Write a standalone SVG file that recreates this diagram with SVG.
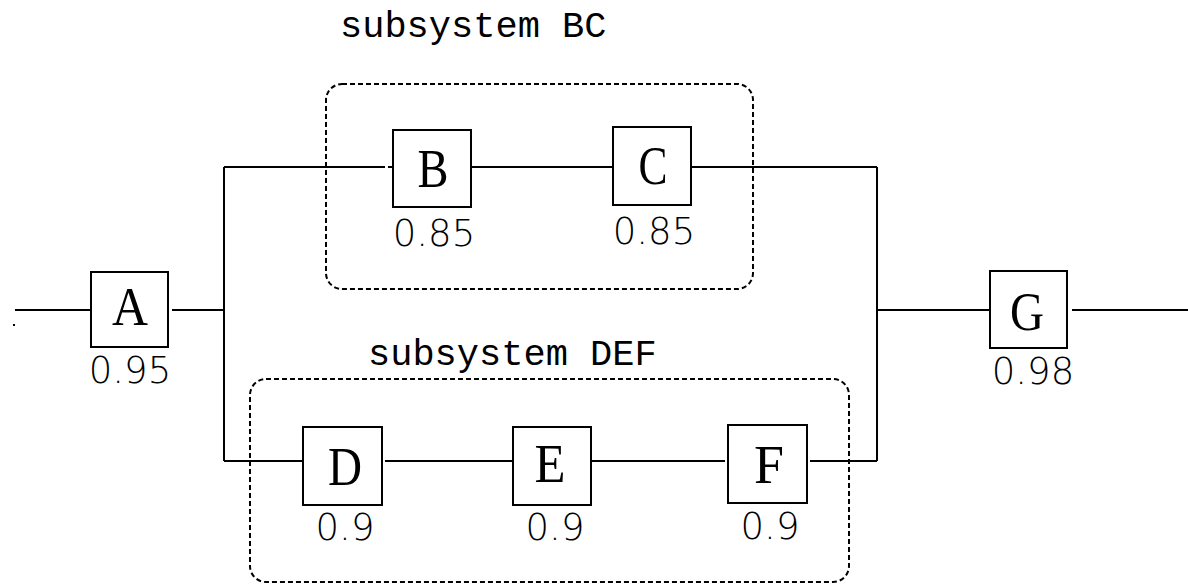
<svg xmlns="http://www.w3.org/2000/svg" width="1188" height="585" viewBox="0 0 1188 585">
  <style>
    .box { fill: #fff; stroke: #000; stroke-width: 2; }
    .wire { fill: none; stroke: #000; stroke-width: 2; }
    .group { fill: none; stroke: #000; stroke-width: 2; stroke-dasharray: 5 3; }
    .letter { font-family: "Liberation Serif", "Times New Roman", serif; font-size: 54px; text-anchor: middle; fill: #000; }
    .value { font-family: "DejaVu Sans", "Liberation Sans", sans-serif; font-weight: 200; font-size: 37px; text-anchor: middle; fill: #000; }
    .title { font-family: "Liberation Mono", "Courier New", monospace; font-size: 37px; fill: #000; }
  </style>
  <rect width="1188" height="585" fill="#fff"/>

  <!-- subsystem outlines -->
  <g id="subsystem-bc">
    <rect class="group" x="326" y="84" width="427" height="205" rx="16" ry="16"/>
    <text class="title" x="340" y="37">subsystem BC</text>
  </g>
  <g id="subsystem-def">
    <rect class="group" x="250" y="379" width="599" height="203" rx="16" ry="16"/>
    <text class="title" x="368" y="365">subsystem DEF</text>
  </g>

  <!-- wiring between blocks -->
  <g id="connectors">
    <path class="wire" d="M15 310 H91"/>
    <rect x="13" y="324" width="2" height="2" fill="#000"/>
    <path class="wire" d="M172 310 H224"/>
    <path class="wire" d="M224 167 V461"/>
    <path class="wire" d="M224 167 H385 M388 167 H393"/>
    <path class="wire" d="M471 167 H613"/>
    <path class="wire" d="M691 167 H877"/>
    <path class="wire" d="M224 461 H303"/>
    <path class="wire" d="M385 461 H513"/>
    <path class="wire" d="M591 461 H725"/>
    <path class="wire" d="M810 461 H877"/>
    <path class="wire" d="M877 167 V461"/>
    <path class="wire" d="M877 310 H990"/>
    <path class="wire" d="M1072 310 H1188"/>
  </g>

  <g id="node-a">
    <rect class="box" x="91" y="272" width="77" height="75"/>
    <text class="letter" x="130" y="325" textLength="36" lengthAdjust="spacingAndGlyphs">A</text>
    <text class="value" x="130" y="383">0.95</text>
  </g>
  <g id="node-b">
    <rect class="box" x="393" y="130" width="78" height="77"/>
    <text class="letter" x="433" y="187" textLength="31" lengthAdjust="spacingAndGlyphs">B</text>
    <text class="value" x="434" y="246">0.85</text>
  </g>
  <g id="node-c">
    <rect class="box" x="613" y="127" width="78" height="78"/>
    <text class="letter" x="653" y="184" textLength="29" lengthAdjust="spacingAndGlyphs">C</text>
    <text class="value" x="654" y="244">0.85</text>
  </g>
  <g id="node-d">
    <rect class="box" x="303" y="427" width="79" height="78"/>
    <text class="letter" x="345" y="485" textLength="34" lengthAdjust="spacingAndGlyphs">D</text>
    <text class="value" x="345" y="540">0.9</text>
  </g>
  <g id="node-e">
    <rect class="box" x="513" y="427" width="78" height="78"/>
    <text class="letter" x="550" y="482" textLength="31" lengthAdjust="spacingAndGlyphs">E</text>
    <text class="value" x="555" y="540">0.9</text>
  </g>
  <g id="node-f">
    <rect class="box" x="728" y="425" width="79" height="78"/>
    <text class="letter" x="769" y="483" textLength="30" lengthAdjust="spacingAndGlyphs">F</text>
    <text class="value" x="770" y="539">0.9</text>
  </g>
  <g id="node-g">
    <rect class="box" x="990" y="271" width="77" height="77"/>
    <text class="letter" x="1027" y="330" textLength="34" lengthAdjust="spacingAndGlyphs">G</text>
    <text class="value" x="1033" y="384">0.98</text>
  </g>
</svg>
